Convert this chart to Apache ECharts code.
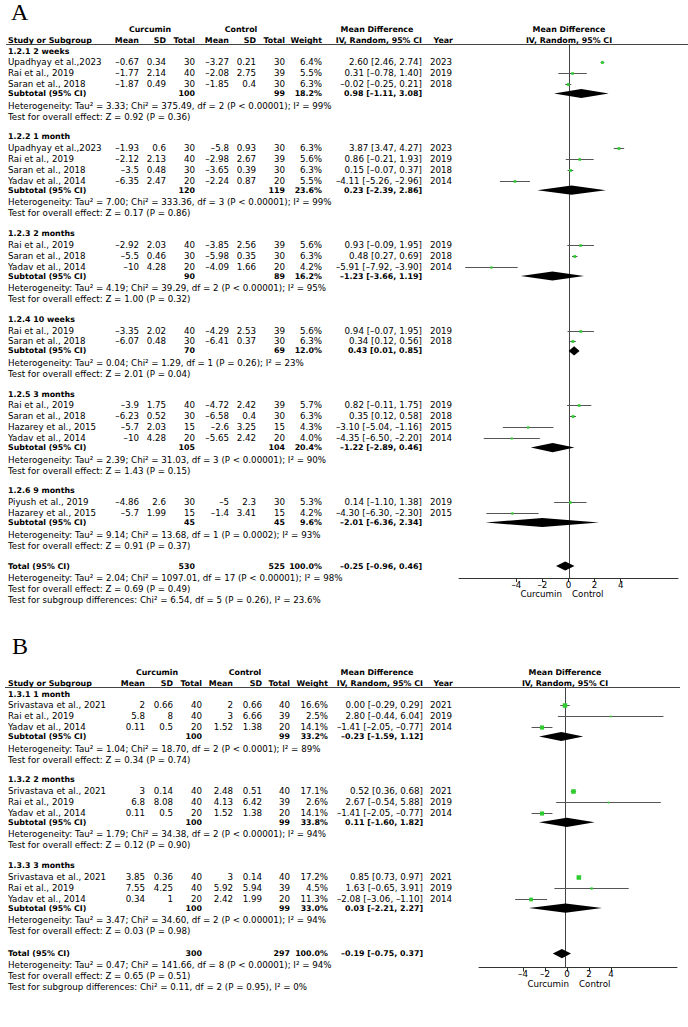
<!DOCTYPE html>
<html><head><meta charset="utf-8">
<script src="https://cdn.jsdelivr.net/npm/echarts@6/dist/echarts.min.js"></script>
<style>html,body{margin:0;padding:0;background:#fff}#c{width:688px;height:1027px}</style>
</head><body><div id="c"></div>
<script>
// ---------------- DATA ----------------
// Panel A
const subLabelsA = ['1.2.1 2 weeks','1.2.2 1 month','1.2.3 2 months','1.2.4 10 weeks','1.2.5 3 months','1.2.6 9 months'];
// [subgroup, study, curMean, curSD, curN, ctlMean, ctlSD, ctlN, weight%, MD, lo, hi, year]
const studiesA = [
 [0,'Upadhyay et al.,2023',-0.67,0.34,30,-3.27,0.21,30,6.4,2.60,2.46,2.74,2023],
 [0,'Rai et al., 2019',-1.77,2.14,40,-2.08,2.75,39,5.5,0.31,-0.78,1.40,2019],
 [0,'Saran et al., 2018',-1.87,0.49,30,-1.85,0.4,30,6.3,-0.02,-0.25,0.21,2018],
 [1,'Upadhyay et al.,2023',-1.93,0.6,30,-5.8,0.93,30,6.3,3.87,3.47,4.27,2023],
 [1,'Rai et al., 2019',-2.12,2.13,40,-2.98,2.67,39,5.6,0.86,-0.21,1.93,2019],
 [1,'Saran et al., 2018',-3.5,0.48,30,-3.65,0.39,30,6.3,0.15,-0.07,0.37,2018],
 [1,'Yadav et al., 2014',-6.35,2.47,20,-2.24,0.87,20,5.5,-4.11,-5.26,-2.96,2014],
 [2,'Rai et al., 2019',-2.92,2.03,40,-3.85,2.56,39,5.6,0.93,-0.09,1.95,2019],
 [2,'Saran et al., 2018',-5.5,0.46,30,-5.98,0.35,30,6.3,0.48,0.27,0.69,2018],
 [2,'Yadav et al., 2014',-10,4.28,20,-4.09,1.66,20,4.2,-5.91,-7.92,-3.90,2014],
 [3,'Rai et al., 2019',-3.35,2.02,40,-4.29,2.53,39,5.6,0.94,-0.07,1.95,2019],
 [3,'Saran et al., 2018',-6.07,0.48,30,-6.41,0.37,30,6.3,0.34,0.12,0.56,2018],
 [4,'Rai et al., 2019',-3.9,1.75,40,-4.72,2.42,39,5.7,0.82,-0.11,1.75,2019],
 [4,'Saran et al., 2018',-6.23,0.52,30,-6.58,0.4,30,6.3,0.35,0.12,0.58,2018],
 [4,'Hazarey et al., 2015',-5.7,2.03,15,-2.6,3.25,15,4.3,-3.10,-5.04,-1.16,2015],
 [4,'Yadav et al., 2014',-10,4.28,20,-5.65,2.42,20,4.0,-4.35,-6.50,-2.20,2014],
 [5,'Piyush et al., 2019',-4.86,2.6,30,-5,2.3,30,5.3,0.14,-1.10,1.38,2019],
 [5,'Hazarey et al., 2015',-5.7,1.99,15,-1.4,3.41,15,4.2,-4.30,-6.30,-2.30,2015]
];
// [curN, ctlN, weight%, MD, lo, hi]
const subTotalsA = [
 [100,99,18.2,0.98,-1.11,3.08],
 [120,119,23.6,0.23,-2.39,2.86],
 [90,89,16.2,-1.23,-3.66,1.19],
 [70,69,12.0,0.43,0.01,0.85],
 [105,104,20.4,-1.22,-2.89,0.46],
 [45,45,9.6,-2.01,-6.36,2.34]
];
const subHetA = [
 'Heterogeneity: Tau² = 3.33; Chi² = 375.49, df = 2 (P < 0.00001); I² = 99%',
 'Heterogeneity: Tau² = 7.00; Chi² = 333.36, df = 3 (P < 0.00001); I² = 99%',
 'Heterogeneity: Tau² = 4.19; Chi² = 39.29, df = 2 (P < 0.00001); I² = 95%',
 'Heterogeneity: Tau² = 0.04; Chi² = 1.29, df = 1 (P = 0.26); I² = 23%',
 'Heterogeneity: Tau² = 2.39; Chi² = 31.03, df = 3 (P < 0.00001); I² = 90%',
 'Heterogeneity: Tau² = 9.14; Chi² = 13.68, df = 1 (P = 0.0002); I² = 93%'
];
const subTestA = [
 'Test for overall effect: Z = 0.92 (P = 0.36)',
 'Test for overall effect: Z = 0.17 (P = 0.86)',
 'Test for overall effect: Z = 1.00 (P = 0.32)',
 'Test for overall effect: Z = 2.01 (P = 0.04)',
 'Test for overall effect: Z = 1.43 (P = 0.15)',
 'Test for overall effect: Z = 0.91 (P = 0.37)'
];
const totalA = [530,525,100.0,-0.25,-0.96,0.46];
const totalTextA = [
 'Heterogeneity: Tau² = 2.04; Chi² = 1097.01, df = 17 (P < 0.00001); I² = 98%',
 'Test for overall effect: Z = 0.69 (P = 0.49)',
 'Test for subgroup differences: Chi² = 6.54, df = 5 (P = 0.26), I² = 23.6%'
];
const ticksA = [-4,-2,0,2,4];

// Panel B
const subLabelsB = ['1.3.1 1 month','1.3.2 2 months','1.3.3 3 months'];
const studiesB = [
 [0,'Srivastava et al., 2021',2,0.66,40,2,0.66,40,16.6,0.00,-0.29,0.29,2021],
 [0,'Rai et al., 2019',5.8,8,40,3,6.66,39,2.5,2.80,-0.44,6.04,2019],
 [0,'Yadav et al., 2014',0.11,0.5,20,1.52,1.38,20,14.1,-1.41,-2.05,-0.77,2014],
 [1,'Srivastava et al., 2021',3,0.14,40,2.48,0.51,40,17.1,0.52,0.36,0.68,2021],
 [1,'Rai et al., 2019',6.8,8.08,40,4.13,6.42,39,2.6,2.67,-0.54,5.88,2019],
 [1,'Yadav et al., 2014',0.11,0.5,20,1.52,1.38,20,14.1,-1.41,-2.05,-0.77,2014],
 [2,'Srivastava et al., 2021',3.85,0.36,40,3,0.14,40,17.2,0.85,0.73,0.97,2021],
 [2,'Rai et al., 2019',7.55,4.25,40,5.92,5.94,39,4.5,1.63,-0.65,3.91,2019],
 [2,'Yadav et al., 2014',0.34,1,20,2.42,1.99,20,11.3,-2.08,-3.06,-1.10,2014]
];
const subTotalsB = [
 [100,99,33.2,-0.23,-1.59,1.12],
 [100,99,33.8,0.11,-1.60,1.82],
 [100,99,33.0,0.03,-2.21,2.27]
];
const subHetB = [
 'Heterogeneity: Tau² = 1.04; Chi² = 18.70, df = 2 (P < 0.0001); I² = 89%',
 'Heterogeneity: Tau² = 1.79; Chi² = 34.38, df = 2 (P < 0.00001); I² = 94%',
 'Heterogeneity: Tau² = 3.47; Chi² = 34.60, df = 2 (P < 0.00001); I² = 94%'
];
const subTestB = [
 'Test for overall effect: Z = 0.34 (P = 0.74)',
 'Test for overall effect: Z = 0.12 (P = 0.90)',
 'Test for overall effect: Z = 0.03 (P = 0.98)'
];
const totalB = [300,297,100.0,-0.19,-0.75,0.37];
const totalTextB = [
 'Heterogeneity: Tau² = 0.47; Chi² = 141.66, df = 8 (P < 0.00001); I² = 94%',
 'Test for overall effect: Z = 0.65 (P = 0.51)',
 'Test for subgroup differences: Chi² = 0.11, df = 2 (P = 0.95), I² = 0%'
];
const ticksB = [-4,-2,0,2,4];

// ---------------- RENDER ----------------
const FONT = '"DejaVu Sans", Verdana, sans-serif';
const FS = 8.7;     // regular text
const FSB = 7.9;    // bold text
const GREEN = '#2ecc2e';
const MINUS = '\u2013';
function num(v){ return (v<0?MINUS:'') + String(Math.abs(v)); }
function f2(v){ return (v<0?MINUS:'') + Math.abs(v).toFixed(2); }
function ci(md,lo,hi){ return f2(md)+' ['+f2(lo)+', '+f2(hi)+']'; }

function layout(subLabels, studies, startY, totGap){
  const rows = [];
  let y = startY;
  subLabels.forEach((lab,g)=>{
    rows.push({kind:'group', g, y});
    studies.filter(s=>s[0]===g).forEach((s,i)=>{ y += (i===0?11.2:10.9); rows.push({kind:'study', s, y}); });
    y += 9.5; rows.push({kind:'sub', g, y});
    y += 12; rows.push({kind:'het', g, y});
    y += 11; rows.push({kind:'test', g, y});
    if (g < subLabels.length-1) y += 20.3;
  });
  y += totGap; rows.push({kind:'total', y});
  y += 11.5; rows.push({kind:'tt0', y});
  y += 11; rows.push({kind:'tt1', y});
  y += 11; rows.push({kind:'tt2', y});
  return rows;
}

const els = [];
function T(x,y,text,align,bold,size,family){
  els.push({type:'text', x:x, y:y, silent:true, style:{text:text, fill:'#000',
    font:(bold?'bold ':'')+(size||(bold?FSB:FS))+'px '+(family||FONT),
    textAlign:align||'left', textVerticalAlign:'middle', align:align||'left', verticalAlign:'middle'}});
}
function L(x1,y1,x2,y2,c){
  els.push({type:'line', silent:true, shape:{x1,y1,x2,y2}, style:{stroke:c||'#333', lineWidth:1}});
}

function buildPanel(P){
  const rows = layout(P.subLabels, P.studies, P.startY, P.totGap);
  const c = P.cols;
  T(P.letterX, P.letterY, P.letter, 'left', false, 24, '"Liberation Serif", "Times New Roman", serif');
  const h1 = P.startY-22, h2 = P.startY-11, hl = P.startY-6.5;
  T(c.cur, h1, 'Curcumin', 'center', true);
  T(c.ctl, h1, 'Control', 'center', true);
  T(c.mdh, h1, 'Mean Difference', 'center', true);
  T(c.plot, h1, 'Mean Difference', 'center', true);
  T(c.name, h2, 'Study or Subgroup', 'left', true);
  T(c.m1, h2, 'Mean', 'right', true); T(c.sd1, h2, 'SD', 'right', true); T(c.n1, h2, 'Total', 'right', true);
  T(c.m2, h2, 'Mean', 'right', true); T(c.sd2, h2, 'SD', 'right', true); T(c.n2, h2, 'Total', 'right', true);
  T(c.w, h2, 'Weight', 'right', true);
  T(c.md, h2, 'IV, Random, 95% CI', 'right', true);
  T(c.yr+1, h2, 'Year', 'right', true);
  T(c.plot, h2, 'IV, Random, 95% CI', 'center', true);
  L(P.lineX1, hl, P.lineX2, hl, '#444');

  const studyData = [], diaData = [];
  let totalY = 0;
  rows.forEach(r=>{
    const y = r.y;
    if (r.kind==='group') T(c.name, y, P.subLabels[r.g], 'left', true);
    else if (r.kind==='study'){
      const s = r.s;
      T(c.name, y, s[1], 'left');
      T(c.m1, y, num(s[2]), 'right'); T(c.sd1, y, num(s[3]), 'right'); T(c.n1, y, num(s[4]), 'right');
      T(c.m2, y, num(s[5]), 'right'); T(c.sd2, y, num(s[6]), 'right'); T(c.n2, y, num(s[7]), 'right');
      T(c.w, y, s[8].toFixed(1)+'%', 'right');
      T(c.md, y, ci(s[9],s[10],s[11]), 'right');
      T(c.yr, y, String(s[12]), 'right');
      studyData.push([s[9], s[10], s[11], y, s[8]]);
    } else if (r.kind==='sub'){
      const t = P.subTotals[r.g];
      T(c.name, y, 'Subtotal (95% CI)', 'left', true);
      T(c.n1, y, String(t[0]), 'right', true); T(c.n2, y, String(t[1]), 'right', true);
      T(c.w, y, t[2].toFixed(1)+'%', 'right', true);
      T(c.md, y, ci(t[3],t[4],t[5]), 'right', true);
      diaData.push([t[3], t[4], t[5], y]);
    } else if (r.kind==='het') T(c.name, y, P.subHet[r.g], 'left');
    else if (r.kind==='test') T(c.name, y, P.subTest[r.g], 'left');
    else if (r.kind==='total'){
      const t = P.total;
      T(c.name, y, 'Total (95% CI)', 'left', true);
      T(c.n1, y, String(t[0]), 'right', true); T(c.n2, y, String(t[1]), 'right', true);
      T(c.w, y, t[2].toFixed(1)+'%', 'right', true);
      T(c.md, y, ci(t[3],t[4],t[5]), 'right', true);
      diaData.push([t[3], t[4], t[5], y]);
      totalY = y;
    } else {
      T(c.name, y, P.totalText[+r.kind.slice(2)], 'left');
    }
  });
  const axisY = totalY + P.axisGap;
  T(P.capSplit-5, axisY+16, 'Curcumin', 'right', false, 8.7);
  T(P.capSplit+5, axisY+16, 'Control', 'left', false, 8.7);
  return {studyData, diaData, axisY, zeroTop: hl};
}

const PA = {letter:'A', letterX:11, letterY:12, startY:51, axisGap:12, totGap:20.5,
  subLabels:subLabelsA, studies:studiesA, subTotals:subTotalsA, subHet:subHetA, subTest:subTestA,
  total:totalA, totalText:totalTextA, lineX1:6, lineX2:688, capSplit:567,
  cols:{name:8,m1:139,sd1:166,n1:195,m2:229,sd2:256,n2:285,w:322,md:422,yr:452,cur:150,ctl:241,mdh:377,plot:569}};
const PB = {letter:'B', letterX:12, letterY:646, startY:694, axisGap:14, totGap:22.5,
  subLabels:subLabelsB, studies:studiesB, subTotals:subTotalsB, subHet:subHetB, subTest:subTestB,
  total:totalB, totalText:totalTextB, lineX1:5, lineX2:680, capSplit:574,
  cols:{name:8,m1:145,sd1:173,n1:202,m2:233,sd2:262,n2:290,w:328,md:423,yr:452,cur:157,ctl:245,mdh:377,plot:565}};

const A = buildPanel(PA);
const B = buildPanel(PB);

function renderStudy(params, api){
  const md=api.value(0), lo=api.value(1), hi=api.value(2), y=api.value(3), w=api.value(4);
  const p0=api.coord([lo,y]), p1=api.coord([hi,y]), pc=api.coord([md,y]);
  const s = 1.1*Math.sqrt(w);
  return {type:'group', children:[
    {type:'line', shape:{x1:p0[0],y1:Math.round(p0[1])+0.5,x2:p1[0],y2:Math.round(p1[1])+0.5}, style:{stroke:'#555', lineWidth:1}},
    {type:'rect', shape:{x:pc[0]-s/2, y:Math.round(pc[1])+0.5-s/2, width:s, height:s}, style:{fill:GREEN}}
  ]};
}
function renderDiamond(params, api){
  const md=api.value(0), lo=api.value(1), hi=api.value(2), y=api.value(3);
  const pl=api.coord([lo,y]), pr=api.coord([hi,y]), pc=api.coord([md,y]);
  const h = 4.6;
  return {type:'polygon', shape:{points:[[pl[0],pl[1]],[pc[0],pc[1]-h],[pr[0],pr[1]],[pc[0],pc[1]+h]]}, style:{fill:'#000'}};
}
function renderZero(params, api){
  const p0=api.coord([api.value(0), api.value(1)]), p1=api.coord([api.value(0), api.value(2)]);
  return {type:'line', shape:{x1:Math.round(p0[0])+0.5,y1:p0[1],x2:Math.round(p1[0])+0.5,y2:p1[1]}, style:{stroke:'#444', lineWidth:1}};
}
const tickFmt = v => (v<0?MINUS+(-v):String(v));
function visAxis(gi, min, max, ticks){
  return {gridIndex:gi, type:'value', min, max, position:'bottom',
    axisLine:{show:true, onZero:false, lineStyle:{color:'#333', width:1}},
    axisTick:{show:true, customValues:ticks, length:4, lineStyle:{color:'#333'}},
    axisLabel:{show:true, customValues:ticks, formatter:tickFmt, margin:2, fontSize:8.7, color:'#000', fontFamily:FONT},
    splitLine:{show:false}};
}
const chart = echarts.init(document.getElementById('c'), null, {renderer:'svg', width:688, height:1027});
chart.setOption({
  animation:false,
  backgroundColor:'#fff',
  grid:[
    {left:459, width:219, top:0, height:A.axisY},
    {left:565-5*16.3, width:12*16.3, top:0, height:B.axisY},
    {left:567-8*11, width:18*11, top:0, height:B.axisY}
  ],
  xAxis:[
    visAxis(0,-8.4,8.4,ticksA),
    {gridIndex:1, type:'value', min:-5, max:7, show:false},
    visAxis(2,-8,10,ticksB)
  ],
  yAxis:[
    {gridIndex:0, type:'value', min:0, max:A.axisY, inverse:true, show:false},
    {gridIndex:1, type:'value', min:0, max:B.axisY, inverse:true, show:false},
    {gridIndex:2, type:'value', min:0, max:B.axisY, inverse:true, show:false}
  ],
  series:[
    {type:'custom', xAxisIndex:0, yAxisIndex:0, clip:false, renderItem:renderZero, encode:{x:0,y:[1,2]}, data:[[0, A.zeroTop, A.axisY]], silent:true},
    {type:'custom', xAxisIndex:0, yAxisIndex:0, clip:false, renderItem:renderStudy, encode:{x:[0,1,2],y:3}, data:A.studyData, silent:true},
    {type:'custom', xAxisIndex:0, yAxisIndex:0, clip:false, renderItem:renderDiamond, encode:{x:[0,1,2],y:3}, data:A.diaData, silent:true},
    {type:'custom', xAxisIndex:1, yAxisIndex:1, clip:false, renderItem:renderZero, encode:{x:0,y:[1,2]}, data:[[0, B.zeroTop, B.axisY]], silent:true},
    {type:'custom', xAxisIndex:1, yAxisIndex:1, clip:false, renderItem:renderStudy, encode:{x:[0,1,2],y:3}, data:B.studyData, silent:true},
    {type:'custom', xAxisIndex:1, yAxisIndex:1, clip:false, renderItem:renderDiamond, encode:{x:[0,1,2],y:3}, data:B.diaData, silent:true}
  ],
  graphic:{elements:els}
});
</script>
</body></html>
